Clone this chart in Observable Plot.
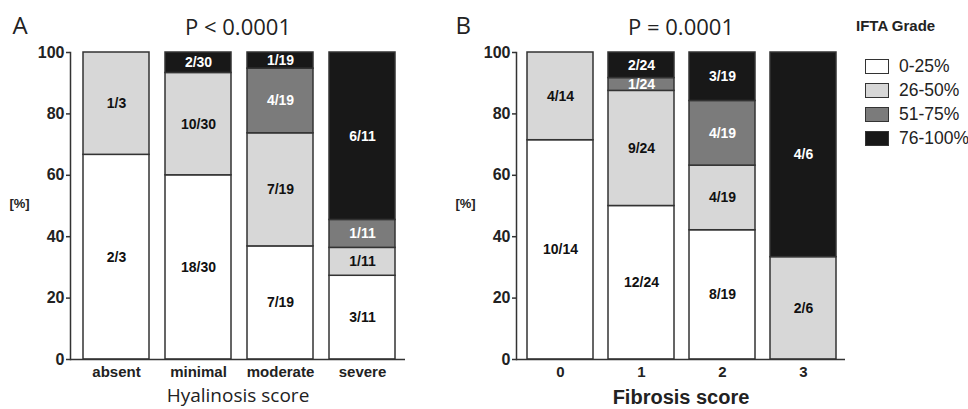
<!DOCTYPE html>
<html><head><meta charset="utf-8">
<script src="https://cdn.jsdelivr.net/npm/d3@7"></script>
<script src="https://cdn.jsdelivr.net/npm/@observablehq/plot@0.6"></script>
<style>
body{margin:0;background:#fff;}
#root{position:relative;width:968px;height:409px;overflow:hidden;background:#fff;}
#pa{position:absolute;left:0;top:0;}
#pb{position:absolute;left:446px;top:0;}
#legend{position:absolute;left:856px;top:16px;font-family:"Liberation Sans",Arial,sans-serif;color:#222;white-space:nowrap;}
#legend .lt{font-weight:bold;font-size:15px;line-height:20px;margin-bottom:18px;}
#legend .item{display:flex;align-items:center;height:24px;font-size:17.5px;margin-left:9px;}
#legend .sw{width:22px;height:13px;border:1.5px solid #333;margin-right:10px;box-sizing:content-box;}
</style></head><body>
<div id="root"><div id="pa"></div><div id="pb"></div><div id="legend"></div></div>
<script>
const grades = ["0-25%", "26-50%", "51-75%", "76-100%"];
const gradeColors = ["#ffffff", "#d7d7d7", "#7b7b7b", "#181818"];
const darkGrades = ["51-75%", "76-100%"];

const hyalCats = ["absent", "minimal", "moderate", "severe"];
const hyalCounts = [[2, 1, 0, 0], [18, 10, 0, 2], [7, 7, 4, 1], [3, 1, 1, 6]];

const fibCats = ["0", "1", "2", "3"];
const fibCounts = [[10, 4, 0, 0], [12, 9, 1, 2], [8, 4, 4, 3], [0, 2, 0, 4]];

const yTicks = [0, 20, 40, 60, 80, 100];

function buildRows(cats, counts) {
  const rows = [];
  cats.forEach((c, i) => {
    const total = d3.sum(counts[i]);
    grades.forEach((g, j) => {
      const n = counts[i][j];
      if (n > 0) rows.push({cat: c, grade: g, n, total, pct: n / total * 100, label: `${n}/${total}`});
    });
  });
  return rows;
}

function panel(o) {
  const rows = buildRows(o.cats, o.counts);
  const isDark = d => darkGrades.includes(d.grade);
  return Plot.plot({
    width: o.width, height: 409,
    marginLeft: 70, marginRight: o.marginRight, marginTop: 52, marginBottom: 50,
    style: {fontFamily: "'Liberation Sans', Arial, sans-serif", background: "white", color: "#222"},
    x: {domain: o.cats, paddingInner: 0.19, paddingOuter: 0, insetLeft: o.insetLeft, insetRight: o.insetRight, label: null},
    y: {domain: [0, 100], label: null},
    color: {domain: grades, range: gradeColors},
    marks: [
      Plot.barY(rows, Plot.stackY({x: "cat", y: "pct", fill: "grade", stroke: "#333", strokeWidth: 1.5})),
      Plot.text(rows, Plot.stackY({x: "cat", y: "pct", text: d => isDark(d) ? "" : d.label, fill: "#111", fontWeight: "bold", fontSize: 14})),
      Plot.text(rows, Plot.stackY({x: "cat", y: "pct", text: d => isDark(d) ? d.label : "", fill: "white", fontWeight: "bold", fontSize: 14})),
      Plot.frame({anchor: "left", stroke: "#333", strokeWidth: 1.5}),
      Plot.ruleY([0], {stroke: "#333", strokeWidth: 1.5}),
      Plot.axisY({ticks: yTicks, tickSize: 4, tickPadding: 2, fontSize: 16, fontWeight: "bold", label: null, stroke: "#333", strokeWidth: 1.5}),
      Plot.axisX({tickSize: 0, tickPadding: 7, fontSize: 15, fontWeight: "bold", label: null}),
      Plot.text([o.letter], {frameAnchor: "top-left", textAnchor: "start", dx: -58 - (o.letterShift || 0), dy: -36, fontSize: 24, fontFamily: "'Open Sans', sans-serif"}),
      Plot.text([o.pText], {frameAnchor: "top", dy: -33, fontSize: 22, fontFamily: "'Open Sans', sans-serif"}),
      Plot.text(["[%]"], {frameAnchor: "left", textAnchor: "middle", dx: -51, dy: -2, fontSize: 13, fontWeight: "bold"}),
      Plot.text([o.xTitle], {frameAnchor: "bottom", dy: o.xTitleDy, fontSize: o.xTitleSize, fontWeight: o.xTitleWeight, fontFamily: o.xTitleFont})
    ]
  });
}

document.getElementById("pa").append(panel({
  cats: hyalCats, counts: hyalCounts, letter: "A", pText: "P < 0.0001",
  xTitle: "Hyalinosis score", xTitleDy: 42, xTitleSize: 19, xTitleWeight: "normal", xTitleFont: "'Open Sans', sans-serif",
  width: 446, marginRight: 41, insetLeft: 12, insetRight: 8
}));
document.getElementById("pb").append(panel({
  cats: fibCats, counts: fibCounts, letter: "B", pText: "P = 0.0001", letterShift: 3,
  xTitle: "Fibrosis score", xTitleDy: 44, xTitleSize: 20, xTitleWeight: "bold", xTitleFont: "'Liberation Sans', Arial, sans-serif",
  width: 410, marginRight: 11, insetLeft: 9, insetRight: 8
}));

const legend = document.getElementById("legend");
const lt = document.createElement("div");
lt.className = "lt"; lt.textContent = "IFTA Grade";
legend.append(lt);
grades.forEach((g, i) => {
  const item = document.createElement("div");
  item.className = "item";
  const sw = document.createElement("span");
  sw.className = "sw"; sw.style.background = gradeColors[i];
  const t = document.createElement("span");
  t.textContent = g;
  item.append(sw, t);
  legend.append(item);
});
</script>
</body></html>
